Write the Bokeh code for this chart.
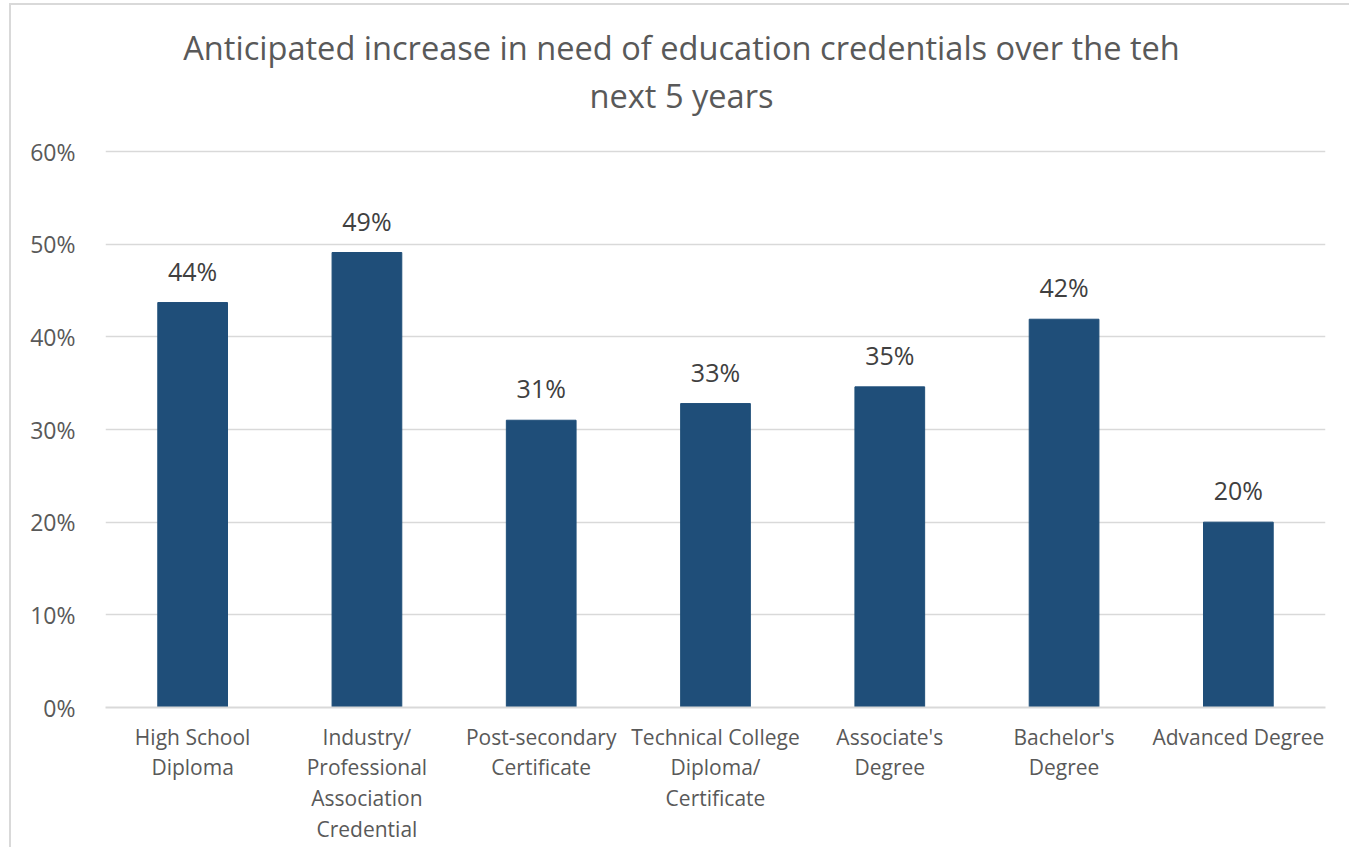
from bokeh.plotting import figure
from bokeh.models import ColumnDataSource, NumeralTickFormatter, FixedTicker, Label, Range1d
from bokeh.core.properties import value
from bokeh.embed import file_html
from bokeh.resources import INLINE

categories = ["High School\nDiploma", "Industry/\nProfessional\nAssociation\nCredential",
              "Post-secondary\nCertificate", "Technical College\nDiploma/\nCertificate",
              "Associate's\nDegree", "Bachelor's\nDegree", "Advanced Degree"]
values = [0.437, 0.491, 0.310, 0.328, 0.346, 0.419, 0.200]
labels = [f"{round(v * 100):.0f}%" for v in values]
y_ticks = [0, 0.1, 0.2, 0.3, 0.4, 0.5, 0.6]
title_lines = ["Anticipated increase in need of education credentials over the teh",
               "next 5 years"]

FONT = "Open Sans"
BAR = "#1f4e79"
GRID = "#d9d9d9"

W, H = 1340, 844
ML, MR, MT, MB = 94, 26, 0, 142
FW, FH = W - ML - MR, H - MT - MB
PLOT_H = 556                      # pixel height of the 0-60% band
Y_TOP = 0.6 * FH / PLOT_H         # frame also holds the title area above 60%

src = ColumnDataSource(dict(cat=categories, val=values, lab=labels))

p = figure(x_range=categories, y_range=Range1d(0, Y_TOP), width=W, height=H,
           output_backend="svg", toolbar_location=None,
           min_border_left=ML, min_border_right=MR, min_border_top=MT, min_border_bottom=MB)
p.styles = {"border-top": f"2px solid {GRID}", "border-left": f"2px solid {GRID}",
            "margin-left": "9px", "margin-top": "3px"}
p.outline_line_color = None

# title lines, centred on the chart area
for i, line in enumerate(title_lines):
    p.add_layout(Label(x=FW / 2 - 34, y=FH - 42 - 48 * i, x_units="screen", y_units="screen",
                       text=line, text_align="center", text_baseline="middle",
                       text_font=FONT, text_font_size="32.6px", text_color="#595959"))

p.vbar(x="cat", top="val", width=0.4, source=src, fill_color=BAR, line_color=BAR)
p.text(x="cat", y="val", text="lab", source=src, text_align="center", text_baseline="bottom",
       y_offset=-15, text_font=value(FONT), text_font_size="25px", text_color="#404040")

p.yaxis.ticker = FixedTicker(ticks=y_ticks)
p.yaxis.formatter = NumeralTickFormatter(format="0%")
p.yaxis.axis_line_color = None
p.yaxis.major_tick_line_color = None
p.yaxis.minor_tick_line_color = None
p.yaxis.major_label_standoff = 24
p.yaxis.major_label_text_font = FONT
p.yaxis.major_label_text_font_size = "23px"
p.yaxis.major_label_text_color = "#595959"

p.xaxis.axis_line_color = GRID
p.xaxis.axis_line_width = 2
p.xaxis.major_tick_line_color = None
p.xaxis.minor_tick_line_color = None
p.xaxis.major_label_standoff = 9
p.xaxis.major_label_text_font = FONT
p.xaxis.major_label_text_font_size = "21px"
p.xaxis.major_label_text_color = "#595959"
p.xaxis.major_label_text_line_height = 1.1
p.xaxis.major_label_orientation = "horizontal"

p.xgrid.grid_line_color = None
p.ygrid.grid_line_color = GRID
p.ygrid.grid_line_width = 1.5

open("out.html", "w").write(file_html(p, INLINE))
